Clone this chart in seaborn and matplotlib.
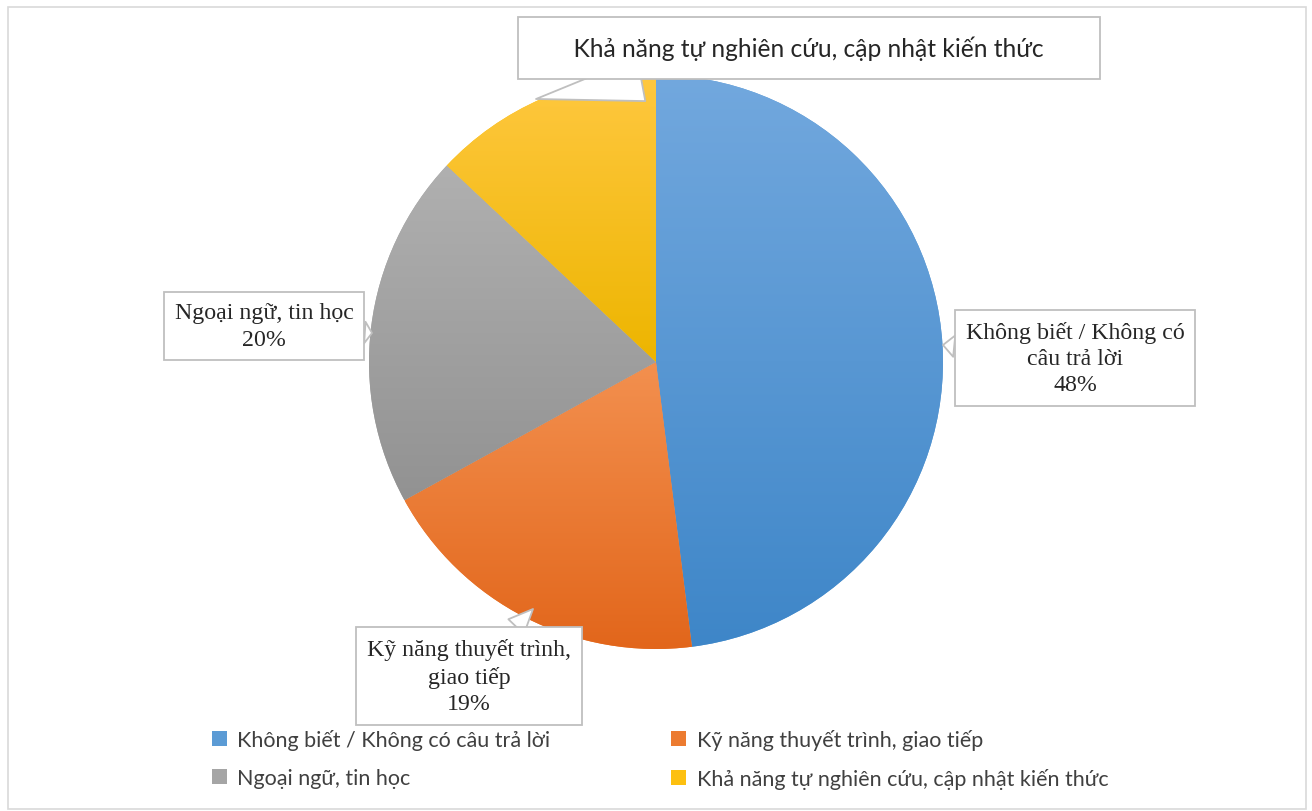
import matplotlib
matplotlib.use("Agg")
import matplotlib.pyplot as plt
import numpy as np
import seaborn as sns
from matplotlib.patches import Rectangle
from matplotlib.colors import LinearSegmentedColormap

# data
categories = [
    "Không biết / Không có câu trả lời",
    "Kỹ năng thuyết trình, giao tiếp",
    "Ngoại ngữ, tin học",
    "Khả năng tự nghiên cứu, cập nhật kiến thức",
]
values = [48, 19, 20, 13]
label_texts = [
    "Không biết / Không có\ncâu trả lời\n48%",
    "Kỹ năng thuyết trình,\ngiao tiếp\n19%",
    "Ngoại ngữ, tin học\n20%",
    "      Khả năng tự nghiên cứu, cập nhật kiến thức      ",
]
colors = ["#5B9BD5", "#EC7B30", "#A5A5A5", "#FDC010"]
# gradient fills (top -> bottom), like the Excel style
grad_top = ["#72A8DE", "#F3904F", "#B0B0B0", "#FFC840"]
grad_bottom = ["#3E86C8", "#E2661B", "#929292", "#EDB500"]

sns.set_theme(style="white")
plt.rcParams['font.family'] = ['Lato', 'DejaVu Sans']

W, H = 1312, 812
fig = plt.figure(figsize=(W / 100, H / 100), dpi=100)
fig.patch.set_facecolor("white")

# outer chart border
fig.add_artist(Rectangle((8 / W, 2 / H), (W - 14) / W, (H - 10) / H,
                         transform=fig.transFigure, fill=False,
                         edgecolor="#D9D9D9", linewidth=1.2))

# pie axes: centre (656, 363), radius 287 px
cx, cy, r = 656, 363, 287
ax = fig.add_axes([(cx - r) / W, (H - cy - r) / H, 2 * r / W, 2 * r / H])
wedges, _ = ax.pie(values, colors=colors, startangle=90, counterclock=False,
                   radius=1, wedgeprops=dict(linewidth=0))

# vertical gradient inside each wedge
for w, top, bot in zip(wedges, grad_top, grad_bottom):
    bb = w.get_path().get_extents(w.get_patch_transform())
    cmap = LinearSegmentedColormap.from_list("g", [bot, top])
    grad = np.linspace(0, 1, 256).reshape(-1, 1)
    im = ax.imshow(grad, cmap=cmap, origin="lower", aspect="auto",
                   extent=(bb.x0, bb.x1, bb.y0, bb.y1), zorder=w.get_zorder())
    im.set_clip_path(w)

ax.set_xlim(-1, 1)
ax.set_ylim(-1, 1)
ax.set_aspect("equal")
ax.axis("off")


def px(x, y):
    # pixel coords -> pie data coords
    return ((x - cx) / r, (cy - y) / r)


# callout label boxes: (text centre px, pointer tip px, font family, size, pad, pointer width)
callouts = [
    ((1075, 359), (943, 346), "Liberation Serif", 17.2, 0.45, 0.9),
    ((469, 677), (533, 610), "Liberation Serif", 17.2, 0.45, 0.9),
    ((264, 327), (372, 334), "Liberation Serif", 17.2, 0.45, 0.9),
    ((809, 49), (536, 100), "Lato", 17.7, 0.75, 1.8),
]
for txt, (tpos, tip, fam, fs, pad, tw) in zip(label_texts, callouts):
    ax.annotate(txt, xy=px(*tip), xytext=px(*tpos), ha="center", va="center",
                fontsize=fs, family=[fam, "DejaVu Sans"], color="#262626",
                linespacing=1.33, annotation_clip=False, zorder=5,
                bbox=dict(boxstyle=f"square,pad={pad}", fc="white", ec="#BFBFBF", lw=1.3),
                arrowprops=dict(arrowstyle=f"wedge,tail_width={tw},shrink_factor=0.5",
                                fc="white", ec="#BFBFBF", lw=1.3,
                                shrinkA=0, shrinkB=0))

# legend (row-wise order: matplotlib fills columns first)
order = [0, 2, 1, 3]
handles = [Rectangle((0, 0), 1, 1, fc=colors[i], ec="none") for i in order]
fig.legend(handles, [categories[i] for i in order], loc="center", ncol=2,
           bbox_to_anchor=(660 / W, 1 - 760 / H), frameon=False,
           prop=dict(family=["Lato", "DejaVu Sans"], size=15.5),
           handlelength=0.7, handleheight=0.7, handletextpad=0.5,
           columnspacing=5.6, labelspacing=0.85, labelcolor="#404040")

fig.savefig("out.png", dpi=100, facecolor="white")
